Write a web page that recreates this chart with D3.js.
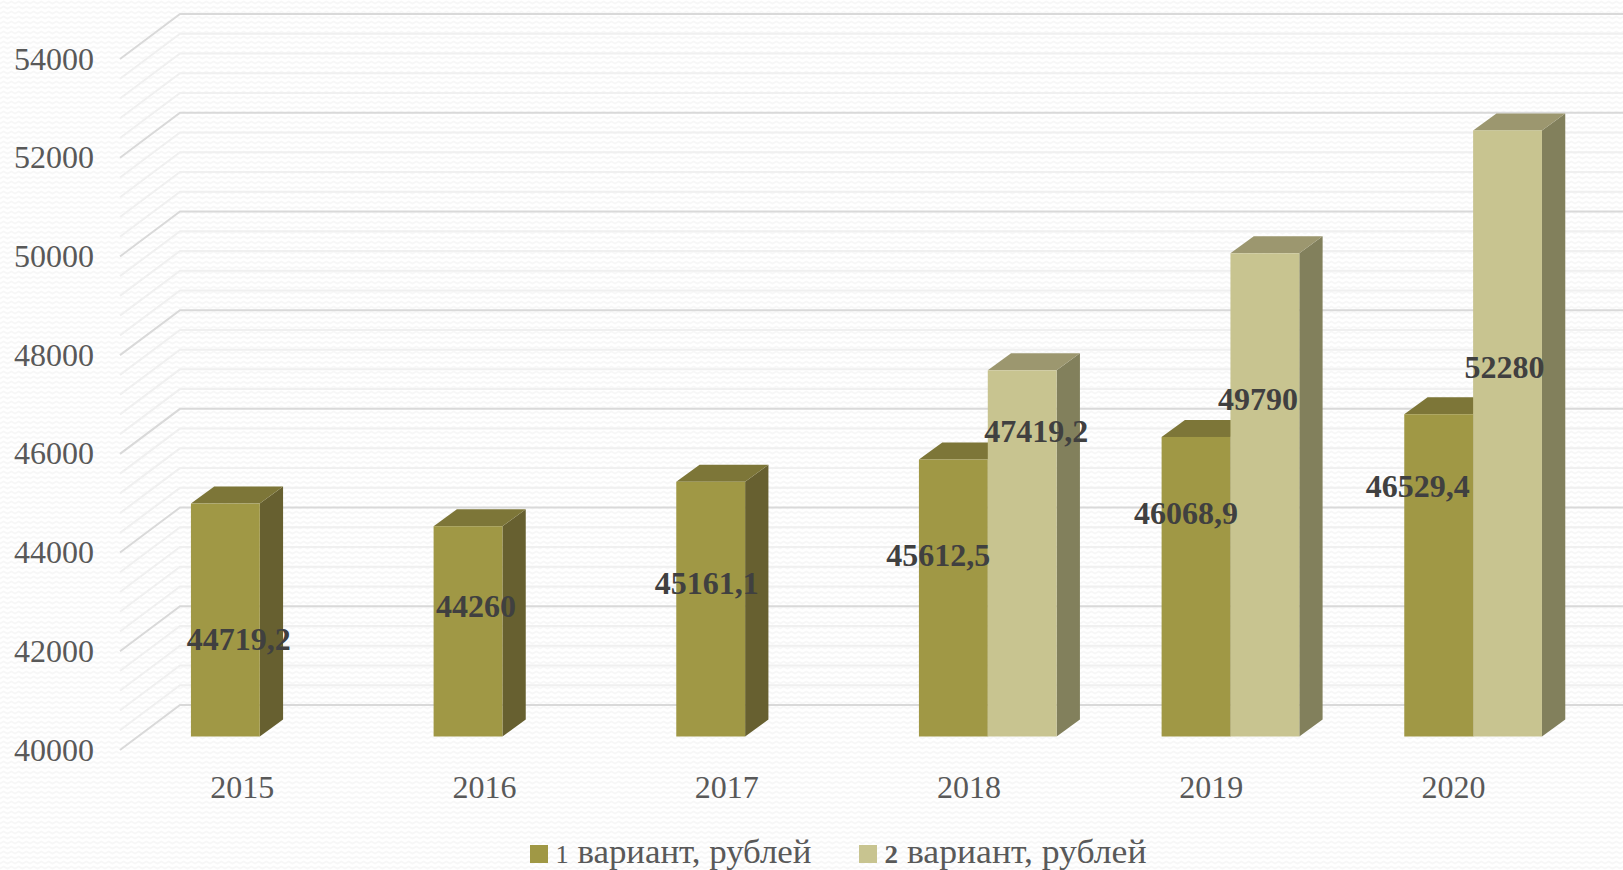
<!DOCTYPE html>
<html><head><meta charset="utf-8">
<script src="https://cdn.jsdelivr.net/npm/d3@7"></script>
<style>html,body{margin:0;padding:0;background:#fff;overflow:hidden}</style></head>
<body><svg id="c" width="1623" height="870"></svg>
<script>
const categories = ["2015","2016","2017","2018","2019","2020"];
const seriesNames = ["1 вариант, рублей","2 вариант, рублей"];
const variant1 = [44719.2,44260,45161.1,45612.5,46068.9,46529.4];
const variant2 = [null,null,null,47419.2,49790,52280];
const variant1Text = ["44719,2","44260","45161,1","45612,5","46068,9","46529,4"];
const variant2Text = [null,null,null,"47419,2","49790","52280"];
const yTicks = [40000,42000,44000,46000,48000,50000,52000,54000];
const yMinorTicks = d3.range(40000,54001,400);

// hand-placed label offsets from each bar's front-top centre
const labelShift1 = [[13.5,146.5],[8,90.5],[-4,112.5],[-15,106.5],[-10,87.5],[-21,82.5]];
const labelShift2 = [null,null,null,[14,71.5],[-7,156.5],[-3,247.5]];
const legendTextWidth = [256,262];

const W=1623,H=870;
const svg=d3.select("#c");
const defs=svg.append("defs");
const pat=defs.append("pattern").attr("id","wave").attr("patternUnits","userSpaceOnUse").attr("width",15).attr("height",10);
pat.append("path").attr("d","M-1,4.1 L3.75,1.5 L7.5,3.6 L11.25,1.5 L16,4.1 M-1,9.1 L3.75,6.5 L7.5,8.6 L11.25,6.5 L16,9.1").attr("fill","none").attr("stroke","#f7f7f7").attr("stroke-width",1.8);
svg.append("rect").attr("width",W).attr("height",H).attr("fill","#fff");
svg.append("rect").attr("width",W).attr("height",H).attr("fill","url(#wave)");

const depth={dx:60,dy:-45};
const barDepth={dx:23.3,dy:-17};
const barInset={dx:18.6,dy:-13.5};
const x=d3.scaleBand().domain(categories).range([120,1576]).padding(0);
const xTickPos=d3.scaleBand().domain(categories).range([121,1574.5]).padding(0);
const xSeries=d3.scaleBand().domain([0,1]).range([-69,68.7]);
const yFront=d3.scaleLinear().domain([40000,54000]).range([750,59]);
const y=v=>yFront(v)+barInset.dy;

const grid=svg.append("g");
yMinorTicks.forEach(t=>{
  const major=yTicks.includes(t);
  grid.append("path")
    .attr("d",`M120,${yFront(t)}L${120+depth.dx},${yFront(t)+depth.dy}L${W},${yFront(t)+depth.dy}`)
    .attr("fill","none").attr("stroke",major?"#d9d9d9":"#f0f0f0").attr("stroke-width",2);
});

const fills=[{front:"#a09845",side:"#676030",top:"#7d7638"},{front:"#c8c490",side:"#82805c",top:"#9c976f"}];

const labels=[];
[variant1,variant2].forEach((vals,s)=>{
  const g=svg.append("g");
  const shift=s===0?labelShift1:labelShift2;
  const texts=s===0?variant1Text:variant2Text;
  vals.forEach((v,i)=>{
    if(v==null)return;
    const x0=x(categories[i])+x.bandwidth()/2+barInset.dx+xSeries(s);
    const x1=x0+xSeries.bandwidth();
    const yT=y(v),yB=y(40000),d=barDepth;
    g.append("path").attr("fill",fills[s].side).attr("d",`M${x1},${yT}L${x1+d.dx},${yT+d.dy}L${x1+d.dx},${yB+d.dy}L${x1},${yB}Z`);
    g.append("path").attr("fill",fills[s].top).attr("d",`M${x0},${yT}L${x0+d.dx},${yT+d.dy}L${x1+d.dx},${yT+d.dy}L${x1},${yT}Z`);
    g.append("rect").attr("x",x0).attr("y",yT).attr("width",x1-x0).attr("height",yB-yT).attr("fill",fills[s].front);
    labels.push({x:(x0+x1)/2+shift[i][0],y:yT+shift[i][1],t:texts[i]});
  });
});

const serif="'Liberation Serif','Times New Roman',serif";
svg.append("g").selectAll("text").data(yTicks).join("text")
  .attr("x",94).attr("y",d=>yFront(d)+10.5).attr("text-anchor","end")
  .attr("font-family",serif).attr("font-size",32).attr("fill","#595959").text(d=>d);
svg.append("g").selectAll("text").data(categories).join("text")
  .attr("x",d=>xTickPos(d)+xTickPos.bandwidth()/2).attr("y",798).attr("text-anchor","middle")
  .attr("font-family",serif).attr("font-size",32).attr("fill","#595959").text(d=>d);
svg.append("g").selectAll("text").data(labels).join("text")
  .attr("x",d=>d.x).attr("y",d=>d.y).attr("text-anchor","middle")
  .attr("font-family",serif).attr("font-size",32).attr("font-weight","bold").attr("fill","#404040").text(d=>d.t);

const lg=svg.append("g");
const legendX=[530,859];
seriesNames.forEach((n,i)=>{
  lg.append("rect").attr("x",legendX[i]).attr("y",845).attr("width",18).attr("height",18).attr("fill",fills[i].front);
  const t=lg.append("text").attr("x",legendX[i]+25.5).attr("y",863)
    .attr("font-family",serif).attr("font-size",33).attr("fill","#595959")
    .attr("textLength",legendTextWidth[i]).attr("lengthAdjust","spacingAndGlyphs");
  t.append("tspan").attr("font-size",25).attr("font-weight",i===1?"bold":"normal").text(n.slice(0,1));
  t.append("tspan").text(n.slice(1));
});
</script></body></html>
